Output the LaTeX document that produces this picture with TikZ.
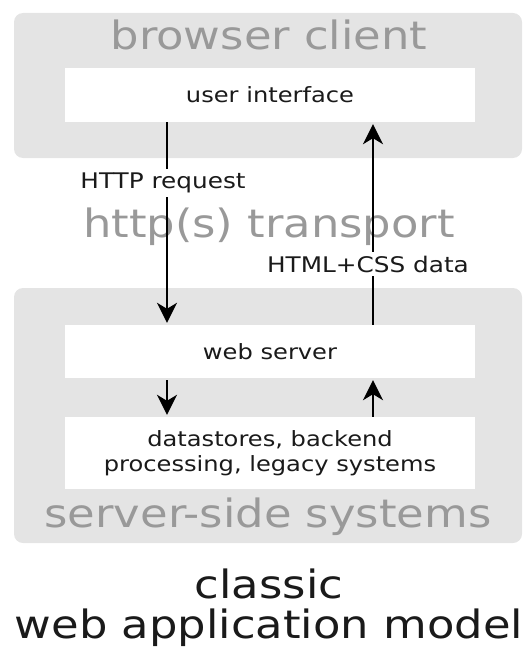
\documentclass[tikz,border=0pt]{standalone}
\usepackage{fontspec}
\setmainfont{DejaVu Sans}[FakeStretch=1.15]
\usepackage{tikz}
\usetikzlibrary{positioning,arrows.meta}
\definecolor{panelgray}{HTML}{E4E4E4}
\definecolor{titlegray}{HTML}{999999}
\definecolor{inkgray}{HTML}{1A1A1A}

\begin{document}
\begin{tikzpicture}[x=1pt,y=-1pt,
    panel/.style={fill=panelgray, rounded corners=9pt, minimum width=508pt},
    layer/.style={fill=white, minimum width=410pt, text=inkgray, align=center,
        font=\fontsize{21}{25}\selectfont},
    bigtitle/.style={text=titlegray, anchor=base, font=\fontsize{39}{46}\selectfont},
    msg/.style={fill=white, text=inkgray, inner sep=4pt, font=\fontsize{21.5}{26}\selectfont},
    arr/.style={line width=2pt, shorten >=2pt, -{Stealth[length=20pt,width=20pt,inset=6pt]}}]
    \useasboundingbox (0,0) rectangle (524,650);

    % the two grey areas
    \node[panel, minimum height=145pt](client) at (268,85.5){};
    \node[panel, minimum height=255pt](server) at (268,415.5){};

    \node[layer, minimum height=54pt](ui) at (270,95){user interface};
    \node[layer, minimum height=53pt](web) at (270,351.5){web server};
    \node[layer, minimum height=72pt](data) at (270,453){datastores, backend\\processing, legacy systems};

    \node[bigtitle](clienttitle) at (269,50){browser client};
    \node[bigtitle](transport) at (269,237){http(s) transport};
    \node[bigtitle](servertitle) at (268,527){server-side systems};
    \node[bigtitle, text=inkgray](caption) at (269,598){classic};
    \node[bigtitle, text=inkgray](caption2) at (269,638){web application model};

    \coordinate(lx) at (167,0);
    \coordinate(rx) at (373,0);
    \draw[arr] (ui.south -| lx) -- node[msg, pos=.3, xshift=-4pt](request){HTTP request} (web.north -| lx);
    \draw[arr] (web.north -| rx) -- node[msg, pos=.3, xshift=-5pt](response){HTML+CSS data} (ui.south -| rx);
    \draw[arr, shorten <=2pt] (web.south -| lx) to (data.north -| lx);
    \draw[arr] (data.north -| rx) to (web.south -| rx);
\end{tikzpicture}
\end{document}
